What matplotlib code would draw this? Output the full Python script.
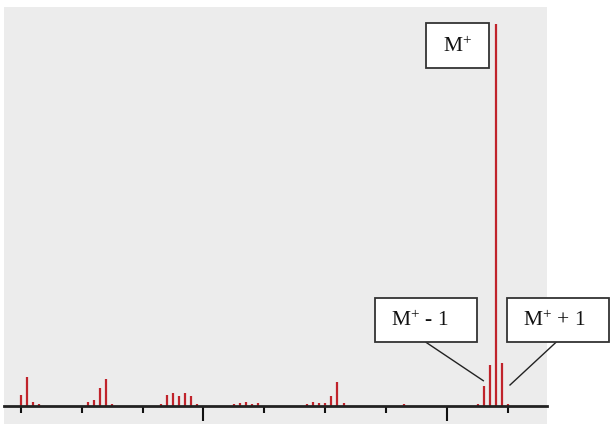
import matplotlib
matplotlib.use('Agg')
import matplotlib.pyplot as plt
from matplotlib.patches import Rectangle
from matplotlib.lines import Line2D

plt.rcParams['font.family'] = ['Liberation Serif', 'DejaVu Serif']
plt.rcParams['mathtext.fontset'] = 'custom'
plt.rcParams['mathtext.rm'] = 'Liberation Serif'
plt.rcParams['mathtext.it'] = 'Liberation Serif:italic'

# m/z positions and relative intensities (M+ = 100)
mz = [10, 11, 12, 13,
      21, 22, 23, 24, 25,
      33, 34, 35, 36, 37, 38, 39,
      45, 46, 47, 48, 49,
      57, 58, 59, 60, 61, 62, 63,
      73,
      85, 86, 87, 88, 89, 90]
intensity = [3.0, 7.6, 1.1, 0.5,
             1.1, 1.7, 4.7, 7.1, 0.5,
             0.5, 3.0, 3.5, 2.5, 3.5, 2.5, 0.5,
             0.5, 0.7, 1.1, 0.5, 0.7,
             0.5, 1.1, 0.7, 0.7, 2.5, 6.2, 0.7,
             0.5,
             0.5, 5.2, 10.7, 100, 11.2, 0.5]

major_ticks = [40, 80]
minor_ticks = [10, 20, 30, 50, 60, 70, 90]

W, H = 612, 427
fig = plt.figure(figsize=(W / 100, H / 100), dpi=100)
ax = fig.add_axes([4 / W, 1 - 425 / H, (547.3 - 4) / W, (425 - 8) / H])
ax.set_facecolor('#ececec')

ax.vlines(mz, 0, intensity, color='#c0232b', linewidth=1.6, zorder=2)

ax.set_xlim(7.26, 96.45)
ax.set_ylim(-4.71, 104.45)

for s in ['top', 'left', 'right']:
    ax.spines[s].set_visible(False)
ax.spines['bottom'].set_position(('data', 0))
ax.spines['bottom'].set_linewidth(2.0)
ax.spines['bottom'].set_color('#222222')
ax.spines['bottom'].set_zorder(3)

ax.set_xticks(major_ticks)
ax.set_xticks(minor_ticks, minor=True)
ax.tick_params(axis='x', which='major', direction='out', length=10.8, width=1.5,
               color='#111111', labelbottom=False)
ax.tick_params(axis='x', which='minor', direction='out', length=5.2, width=1.5,
               color='#111111', labelbottom=False)
ax.set_yticks([])


def px_box(x0, y0, x1, y1, label, tx):
    # box given in pixel coordinates of the image (top-left origin)
    r = Rectangle((x0 / W, 1 - y1 / H), (x1 - x0) / W, (y1 - y0) / H,
                  transform=fig.transFigure, facecolor='white',
                  edgecolor='#333333', linewidth=1.3, zorder=5)
    fig.patches.append(r)
    fig.text(tx / W, 1 - (y0 + y1) / 2 / H, label, ha='center',
             va='center', fontsize=15.5, color='#111111', zorder=6)


def px_line(x0, y0, x1, y1):
    fig.lines.append(Line2D([x0 / W, x1 / W], [1 - y0 / H, 1 - y1 / H],
                            transform=fig.transFigure, color='#222222',
                            linewidth=1.0, zorder=4))


px_box(426, 24.3, 489, 69, r'M$^{+}$', 458)
px_box(375, 299, 476.7, 342.7, r'M$^{+}$ - 1', 419.5)
px_box(507.3, 299, 609.3, 343.3, r'M$^{+}$ + 1', 554.5)
px_line(426, 343.3, 483.3, 381.7)
px_line(556, 343.3, 510, 386)

fig.savefig('out.png', dpi=100)
